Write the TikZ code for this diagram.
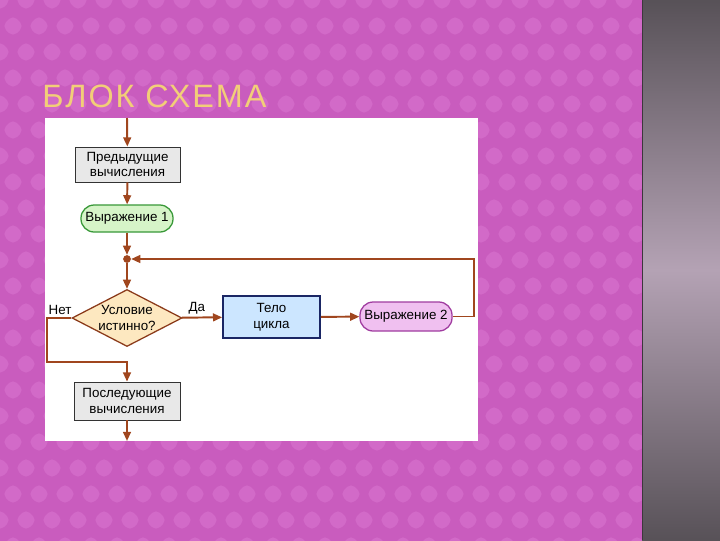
\documentclass[tikz,border=0pt]{standalone}
\usepackage{fontspec}
\setmainfont{Liberation Sans}
\newfontfamily\titlefont[LetterSpace=6]{Liberation Sans}
\usetikzlibrary{
    arrows.meta,
    positioning,
    shapes.geometric
}
\definecolor{slidePink}{RGB}{201,92,190}
\definecolor{dotPink}{RGB}{210,106,200}
\definecolor{stripDark}{RGB}{86,80,86}
\definecolor{stripLight}{RGB}{180,162,180}
\definecolor{titleGold}{RGB}{242,206,120}
\definecolor{lineBrown}{RGB}{160,70,30}
\definecolor{calcGray}{RGB}{232,232,232}
\definecolor{exprGreen}{RGB}{214,244,200}
\definecolor{exprGreenLine}{RGB}{56,152,56}
\definecolor{condBeige}{RGB}{253,232,192}
\definecolor{condLine}{RGB}{139,58,26}
\definecolor{bodyBlue}{RGB}{204,230,255}
\definecolor{bodyLine}{RGB}{26,38,100}
\definecolor{exprPink}{RGB}{240,192,240}
\definecolor{exprPinkLine}{RGB}{160,60,160}
\tikzset{
  calcbox/.style  = {draw=black!80, fill=calcGray, line width=0.6pt,
                     align=center, font=\fontsize{9.5}{11}\selectfont, inner sep=0pt},
  exprbox/.style  = {rounded corners=0.33cm, line width=0.9pt,
                     minimum width=2.3cm, align=center,
                     font=\fontsize{9.5}{11}\selectfont, inner sep=0pt},
  condbox/.style  = {diamond, draw=condLine, fill=condBeige, line width=0.9pt,
                     minimum width=2.75cm, minimum height=1.425cm, inner sep=0pt},
  condtext/.style = {align=center, font=\fontsize{9.5}{11}\selectfont},
  bodybox/.style  = {draw=bodyLine, fill=bodyBlue, line width=1.2pt,
                     minimum width=2.425cm, minimum height=1.05cm, align=center,
                     font=\fontsize{9.5}{11}\selectfont, inner sep=0pt},
  arr/.style      = {-{Triangle[length=6.5pt,width=5.5pt]}, lineBrown, line width=1.4pt},
  lbl/.style      = {font=\fontsize{9.5}{11}\selectfont, inner sep=1pt}
}

\begin{document}
\begin{tikzpicture}[x=0.025cm, y=-0.025cm]
\useasboundingbox (0,0) rectangle (720,540);

% --- SLIDE BACKGROUND ---
\fill[slidePink, overlay] (-5,-5) rectangle (725,545);
\begin{scope}
\clip (0,0) rectangle (642,540);
\foreach \i in {0,...,25}{
  \foreach \j in {0,...,21}{
    \pgfmathsetmacro{\px}{\i*26+13*mod(\j,2)}
    \pgfmathsetmacro{\py}{\j*26}
    \fill[dotPink, rounded corners=4pt] (\px,\py-11) -- (\px+11,\py) -- (\px,\py+11) -- (\px-11,\py) -- cycle;
  }
}
\end{scope}
\shade[overlay, top color=stripDark, bottom color=stripDark, middle color=stripLight]
  (642,-5) rectangle (725,545);
\draw[stripDark!70!black, line width=0.8pt] (642.5,0) -- (642.5,540);

% --- TITLE ---
\node[anchor=base west, inner sep=0pt, text=titleGold,
      font=\titlefont\fontsize{23}{23}\selectfont]
  (title) at (42,107) {БЛОК СХЕМА};

% --- WHITE PANEL ---
\fill[white] (45,118) rectangle (478,441);

% --- BLOCKS ---
\node[calcbox, minimum width=2.625cm, minimum height=0.875cm] (prev) at (127.5,164.5)
  {Предыдущие\\вычисления};
\node[exprbox, draw=exprGreenLine, fill=exprGreen, minimum height=0.675cm] (expr1)
  at (127,218.5) {Выражение 1};
\node[circle, fill=lineBrown, inner sep=0pt, minimum size=5.5pt] (join) at (127,259) {};
\node[condbox] (cond) at (127,318) {};
\node[condtext] (condlbl) at (cond.center) {Условие\\истинно?};
\node[bodybox] (body) at (271.5,317) {Тело\\цикла};
\node[exprbox, draw=exprPinkLine, fill=exprPink, minimum height=0.725cm] (expr2)
  at (406,316.5) {Выражение 2};
\node[calcbox, minimum width=2.65cm, minimum height=0.95cm] (next) at (127,401)
  {Последующие\\вычисления};

% --- FREE ENDS AND BENDS ---
\coordinate (in) at (127,118);
\coordinate (out) at (127,441);
\coordinate (back) at (474,259);
\coordinate (nocorner) at (47,362);

% --- CONNECTIONS ---
\draw[arr] (in) -- (prev);
\draw[arr] (prev) -- (expr1);
\draw[arr] (expr1) -- (join);
\draw[arr] (join) -- (cond);
\draw[arr] (cond) -- (body);
\draw[arr] (body) -- (expr2);
\draw[arr] (expr2.east) -| (back) -- (join);
\draw[arr] (cond.west) -| (nocorner) -| (next.north);
\draw[arr] (next) -- (out);

% --- BRANCH LABELS ---
\node[lbl, anchor=south west] (yes) at (187,316) {Да};
\node[lbl, anchor=south] (no) at (60,316) {Нет};
\end{tikzpicture}
\end{document}
